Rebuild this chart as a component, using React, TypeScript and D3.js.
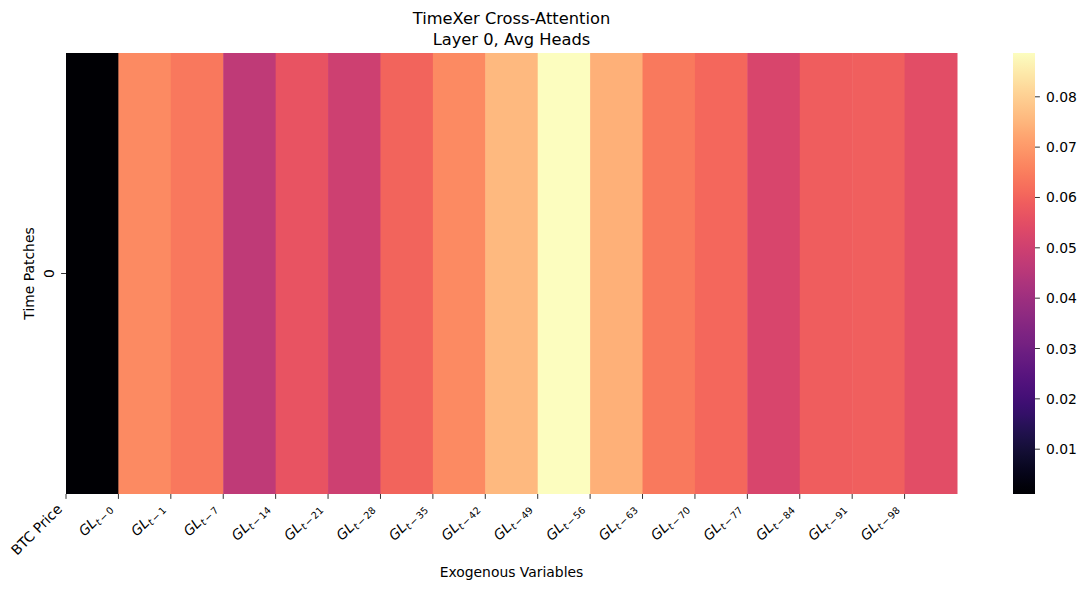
import React from "react";
import * as d3 from "d3";

const variables = [
  "BTC Price",
  "GL_{t-0}",
  "GL_{t-1}",
  "GL_{t-7}",
  "GL_{t-14}",
  "GL_{t-21}",
  "GL_{t-28}",
  "GL_{t-35}",
  "GL_{t-42}",
  "GL_{t-49}",
  "GL_{t-56}",
  "GL_{t-63}",
  "GL_{t-70}",
  "GL_{t-77}",
  "GL_{t-84}",
  "GL_{t-91}",
  "GL_{t-98}",
];
const timePatches = ["0"];
const attention = [
  0.0011, 0.0674, 0.0640, 0.0469, 0.0563, 0.0498, 0.0602, 0.0674, 0.0758,
  0.0887, 0.0740, 0.0642, 0.0607, 0.0521, 0.0588, 0.0592, 0.0548,
];
const colorbarTicks = [0.01, 0.02, 0.03, 0.04, 0.05, 0.06, 0.07, 0.08];

const W = 1085;
const H = 590;
const left = 66;
const right = 957;
const top = 53;
const bottom = 494;
const cbX0 = 1013;
const cbX1 = 1035;
const FONT = "DejaVu Sans, sans-serif";

function TickLabel({ label, x, y }: { label: string; x: number; y: number }) {
  const m = label.match(/^GL_\{t-(\d+)\}$/);
  if (!m) {
    const ax = x - 3;
    const ay = y + 16;
    return (
      <text x={ax} y={ay} transform={`rotate(-45, ${ax}, ${ay})`} textAnchor="end" fontSize={13.9} fontFamily={FONT} fill="#000">
        {label}
      </text>
    );
  }
  const ax = x - 6;
  const ay = y + 15;
  return (
    <text x={ax} y={ay} transform={`rotate(-45, ${ax}, ${ay})`} textAnchor="end" fontSize={13.9} fontFamily={FONT} fill="#000">
      <tspan fontStyle="italic">GL</tspan>
      <tspan fontStyle="italic" fontSize={9.7} dy={2.8}>t</tspan>
      <tspan fontSize={9.7} dx={1.5}>{"\u2212"}</tspan>
      <tspan fontSize={9.7} dx={1.5}>{m[1]}</tspan>
    </text>
  );
}

export default function App() {
  const vmin = d3.min(attention) as number;
  const vmax = d3.max(attention) as number;
  const x = d3.scaleBand<string>().domain(variables).range([left, right]).padding(0);
  const y = d3.scaleBand<string>().domain(timePatches).range([top, bottom]).padding(0);
  const color = d3.scaleSequential(d3.interpolateMagma).domain([vmin, vmax]);
  const cbY = d3.scaleLinear().domain([vmin, vmax]).range([bottom, top]);
  const stops = d3.range(0, 1.0001, 0.02);

  return (
    <svg width={W} height={H} style={{ position: "fixed", left: 0, top: 0, background: "#fff" }}>
      <defs>
        <linearGradient id="cb" x1="0" y1="1" x2="0" y2="0">
          {stops.map((t, i) => (
            <stop key={i} offset={t} stopColor={d3.interpolateMagma(t)} />
          ))}
        </linearGradient>
      </defs>
      <rect x={0} y={0} width={W} height={H} fill="#fff" />
      <text x={(left + right) / 2} y={24} textAnchor="middle" fontSize={16.3} fontFamily={FONT}>
        TimeXer Cross-Attention
      </text>
      <text x={(left + right) / 2} y={45} textAnchor="middle" fontSize={16.3} fontFamily={FONT}>
        Layer 0, Avg Heads
      </text>
      {timePatches.map((tp) =>
        variables.map((v, i) => (
          <rect
            key={tp + v}
            x={x(v)}
            y={y(tp)}
            width={x.bandwidth() + 0.5}
            height={y.bandwidth()}
            fill={color(attention[i])}
          />
        ))
      )}
      {variables.map((v) => {
        const tx = x(v) as number;
        return (
          <g key={"t" + v}>
            <line x1={tx} x2={tx} y1={bottom} y2={bottom + 4.9} stroke="#000" strokeWidth={0.8} />
            <TickLabel label={v} x={tx} y={bottom} />
          </g>
        );
      })}
      {timePatches.map((tp) => {
        const ty = (y(tp) as number) + y.bandwidth() / 2;
        return (
          <g key={"y" + tp}>
            <line x1={left - 4.9} x2={left} y1={ty} y2={ty} stroke="#000" strokeWidth={0.8} />
            <text
              x={54}
              y={ty}
              transform={`rotate(-90, 54, ${ty})`}
              textAnchor="middle"
              fontSize={13.9}
              fontFamily={FONT}
            >
              {tp}
            </text>
          </g>
        );
      })}
      <text
        x={34}
        y={(top + bottom) / 2}
        transform={`rotate(-90, 34, ${(top + bottom) / 2})`}
        textAnchor="middle"
        fontSize={13.9}
        fontFamily={FONT}
      >
        Time Patches
      </text>
      <text x={(left + right) / 2} y={577} textAnchor="middle" fontSize={13.9} fontFamily={FONT}>
        Exogenous Variables
      </text>
      <rect x={cbX0} y={top} width={cbX1 - cbX0} height={bottom - top} fill="url(#cb)" />
      {colorbarTicks.map((t) => (
        <g key={"c" + t}>
          <line x1={cbX1} x2={cbX1 + 4.9} y1={cbY(t)} y2={cbY(t)} stroke="#000" strokeWidth={0.8} />
          <text x={cbX1 + 11} y={cbY(t) + 5} fontSize={13.9} fontFamily={FONT}>
            {t.toFixed(2)}
          </text>
        </g>
      ))}
    </svg>
  );
}
